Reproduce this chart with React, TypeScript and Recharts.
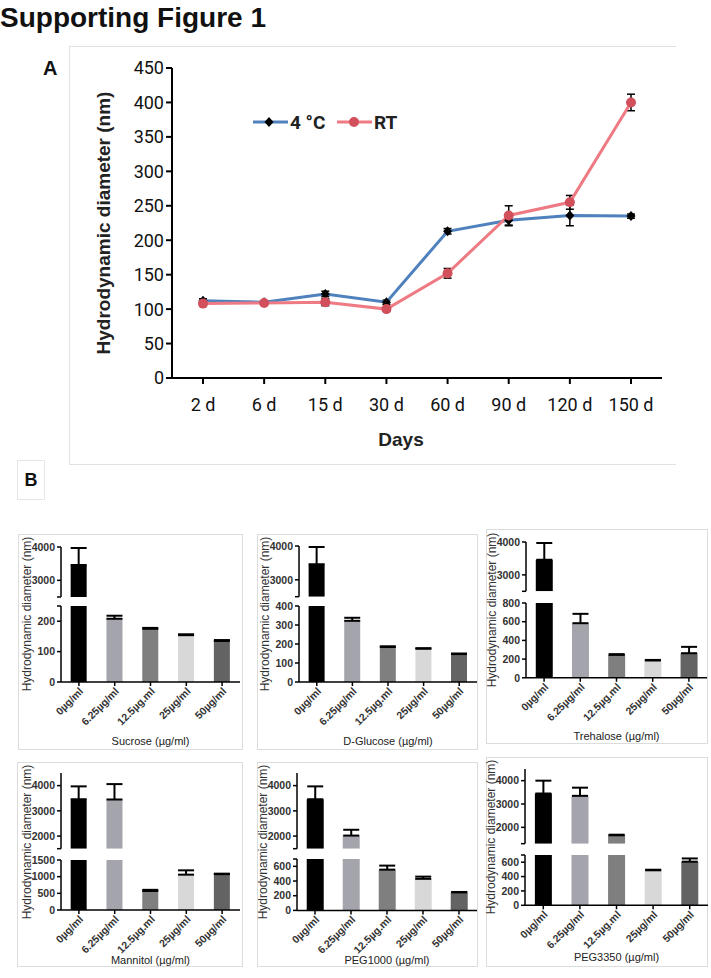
import React from "react";
import {
  LineChart,
  Line,
  BarChart,
  Bar,
  Cell,
  XAxis,
  YAxis,
  ErrorBar,
  Legend,
} from "recharts";

// ---- panel A: stability over time ----
const days = ["2 d", "6 d", "15 d", "30 d", "60 d", "90 d", "120 d", "150 d"];
const coldVals = [112, 110, 122, 110, 213, 229, 236, 235];
const coldErr = [3, 2, 4, 3, 4, 8, 15, 3];
const roomVals = [108, 109, 110, 100, 152, 236, 255, 400];
const roomErr = [3, 2, 5, 3, 7, 14, 10, 12];
const yTicksA = [0, 50, 100, 150, 200, 250, 300, 350, 400, 450];

// ---- panel B: cryoprotectants ----
const concs = ["0µg/ml", "6.25µg/ml", "12.5µg.ml", "25µg/ml", "50µg/ml"];
const barColors = ["#000000", "#a4a4ac", "#7f7f7f", "#d8d8d8", "#636363"];

const sucroseVals = [3460, 208, 175, 154, 135];
const sucroseErr = [510, 10, 3, 3, 3];
const glucoseVals = [3460, 322, 184, 175, 147];
const glucoseErr = [510, 16, 4, 3, 3];
const trehaloseVals = [3460, 584, 245, 185, 263];
const trehaloseErr = [510, 100, 8, 6, 68];
const mannitolVals = [3460, 3450, 570, 1060, 1075];
const mannitolErr = [510, 610, 35, 130, 15];
const peg1000Vals = [3460, 2020, 555, 430, 245];
const peg1000Err = [510, 230, 55, 30, 6];
const peg3350Vals = [3450, 3350, 1660, 487, 607];
const peg3350Err = [550, 350, 25, 8, 45];

const FONT_A = "'Liberation Sans Narrow', 'Arial Narrow', Roboto, sans-serif";
const FONT_B = "'Liberation Sans', Arial, sans-serif";

const lineData = days.map((d, i) => ({
  day: d,
  cold: coldVals[i],
  coldErr: coldErr[i],
  room: roomVals[i],
  roomErr: roomErr[i],
}));

const diamondDot = (p: any) => (
  <path
    key={`dm-${p.index}`}
    d={`M${p.cx},${p.cy - 5}L${p.cx + 4.5},${p.cy}L${p.cx},${p.cy + 5}L${p.cx - 4.5},${p.cy}Z`}
    fill="#000"
  />
);

const circleDot = (p: any) => (
  <circle key={`ci-${p.index}`} cx={p.cx} cy={p.cy} r={5} fill="#d1505b" />
);

const renderLegend = (props: any) => (
  <svg width={160} height={24} style={{ display: "block" }}>
    {(props.payload || []).map((p: any, i: number) => {
      const x0 = i * 84;
      const isRoom = p.value === "RT";
      return (
        <g key={p.value}>
          <line x1={x0} x2={x0 + 35} y1={12} y2={12} stroke={p.color} strokeWidth={3} />
          {isRoom ? (
            <circle cx={x0 + 17} cy={12} r={5} fill="#d1505b" />
          ) : (
            <path d={`M${x0 + 16},7L${x0 + 20.5},12L${x0 + 16},17L${x0 + 11.5},12Z`} fill="#000" />
          )}
          <text x={x0 + 37} y={19} fontFamily={FONT_A} fontWeight="bold" fontSize={19} fill="#222">
            {p.value}
          </text>
        </g>
      );
    })}
  </svg>
);

type Panel = {
  title: string;
  vals: number[];
  errs: number[];
  box: [number, number, number, number];
  axisX: number;
  endX: number;
  upTop: number;
  upBot: number;
  lowTop: number;
  lowBot: number;
  upDomain: [number, number];
  upTicks: number[];
  upHide: number[];
  lowDomain: [number, number];
  lowTicks: number[];
  lowHide: number[];
  labelY: number;
};

const panels: Panel[] = [
  {
    title: "Sucrose (µg/ml)", vals: sucroseVals, errs: sucroseErr,
    box: [18, 534, 225, 216], axisX: 61, endX: 240,
    upTop: 546.7, upBot: 596.7, lowTop: 606, lowBot: 682,
    upDomain: [2500, 4000], upTicks: [2500, 3000, 4000], upHide: [2500],
    lowDomain: [0, 250], lowTicks: [0, 100, 200, 250], lowHide: [250], labelY: 741,
  },
  {
    title: "D-Glucose (µg/ml)", vals: glucoseVals, errs: glucoseErr,
    box: [257, 534, 221, 216], axisX: 299, endX: 477,
    upTop: 546, upBot: 596.7, lowTop: 606.3, lowBot: 682.3,
    upDomain: [2500, 4000], upTicks: [2500, 3000, 4000], upHide: [2500],
    lowDomain: [0, 400], lowTicks: [0, 100, 200, 300, 400], lowHide: [], labelY: 741,
  },
  {
    title: "Trehalose (µg/ml)", vals: trehaloseVals, errs: trehaloseErr,
    box: [486, 529, 222, 215], axisX: 526, endX: 707,
    upTop: 541.7, upBot: 591, lowTop: 602.5, lowBot: 677.3,
    upDomain: [2500, 4000], upTicks: [2500, 3000, 4000], upHide: [2500],
    lowDomain: [0, 800], lowTicks: [0, 200, 400, 600, 800], lowHide: [], labelY: 735,
  },
  {
    title: "Mannitol (µg/ml)", vals: mannitolVals, errs: mannitolErr,
    box: [17, 762, 226, 205], axisX: 61, endX: 240,
    upTop: 773.3, upBot: 849, lowTop: 860, lowBot: 910,
    upDomain: [1500, 4500], upTicks: [1500, 2000, 3000, 4000], upHide: [1500],
    lowDomain: [0, 1500], lowTicks: [0, 500, 1000, 1500], lowHide: [], labelY: 960,
  },
  {
    title: "PEG1000 (µg/ml)", vals: peg1000Vals, errs: peg1000Err,
    box: [257, 762, 221, 205], axisX: 297, endX: 477,
    upTop: 773.3, upBot: 849, lowTop: 859.3, lowBot: 910.7,
    upDomain: [1500, 4500], upTicks: [1500, 2000, 3000, 4000], upHide: [1500],
    lowDomain: [0, 700], lowTicks: [0, 200, 400, 600, 700], lowHide: [700], labelY: 960,
  },
  {
    title: "PEG3350 (µg/ml)", vals: peg3350Vals, errs: peg3350Err,
    box: [486, 757, 222, 210], axisX: 525, endX: 708,
    upTop: 769.3, upBot: 844, lowTop: 855, lowBot: 905.3,
    upDomain: [1300, 4500], upTicks: [1300, 2000, 3000, 4000], upHide: [1300],
    lowDomain: [0, 700], lowTicks: [0, 200, 400, 600, 700], lowHide: [700], labelY: 957,
  },
];

const YW = 40;
const PAD = 7;
const PR = 4;

const RotTick = (props: any) => {
  const { x, y, payload } = props;
  return (
    <text
      x={x + 5}
      y={y + 4}
      textAnchor="end"
      transform={`rotate(-45, ${x + 5}, ${y + 4})`}
      fontSize={10.5}
      fontWeight="bold"
      fontFamily={FONT_B}
      fill="#333"
    >
      {payload.value}
    </text>
  );
};

const yTickStyle = { fontSize: 10.5, fontWeight: "bold", fontFamily: FONT_B, fill: "#333" } as any;

function BrokenBars({ p }: { p: Panel }) {
  const [bx, by, bw, bh] = p.box;
  const data = concs.map((c, i) => {
    const v = p.vals[i];
    const e = p.errs[i];
    const inUp = v >= p.upDomain[0];
    const inLow = v <= p.lowDomain[1];
    return {
      c,
      up: inUp ? v : null,
      upErr: inUp ? [0, e] : null,
      low: Math.min(v, p.lowDomain[1]),
      lowErr: inLow ? [0, e] : null,
    };
  });
  const w = YW + (p.endX - p.axisX) + PR;
  const xh = by + bh - p.lowBot;
  const titleOffset = by + bh - (p.labelY + 4);
  const midY = (p.upTop + p.lowBot) / 2;
  return (
    <>
      <div
        style={{
          position: "absolute",
          left: bx,
          top: by,
          width: bw,
          height: bh,
          border: "1px solid #dcdcdc",
          boxSizing: "border-box",
        }}
      />
      <svg
        style={{ position: "absolute", left: p.axisX - 44, top: midY - 90 }}
        width={20}
        height={180}
      >
        <text
          transform="translate(10, 90) rotate(-90)"
          textAnchor="middle"
          dominantBaseline="central"
          fontSize={12}
          fontFamily={FONT_B}
          fill="#333"
        >
          Hydrodynamic diameter (nm)
        </text>
      </svg>
      <div style={{ position: "absolute", left: p.axisX - YW, top: p.upTop - PAD }}>
        <BarChart
          width={w}
          height={p.upBot - p.upTop + PAD + 2}
          data={data}
          margin={{ top: PAD, right: PR, bottom: 2, left: 0 }}
          barCategoryGap="27%"
        >
          <XAxis dataKey="c" hide />
          <YAxis
            width={YW}
            domain={p.upDomain}
            ticks={p.upTicks}
            allowDataOverflow
            interval={0}
            tickSize={4}
            tickMargin={2}
            tick={yTickStyle}
            axisLine={{ stroke: "#000", strokeWidth: 1.5 }}
            tickLine={{ stroke: "#000", strokeWidth: 1.5 }}
            tickFormatter={(v: number) => (p.upHide.includes(v) ? "" : String(v))}
          />
          <Bar dataKey="up" isAnimationActive={false}>
            {data.map((d, i) => (
              <Cell key={d.c} fill={barColors[i]} />
            ))}
            <ErrorBar dataKey="upErr" width={8} stroke="#000" strokeWidth={2} direction="y" />
          </Bar>
        </BarChart>
      </div>
      <div style={{ position: "absolute", left: p.axisX - YW, top: p.lowTop - PAD }}>
        <BarChart
          width={w}
          height={p.lowBot - p.lowTop + PAD + xh}
          data={data}
          margin={{ top: PAD, right: PR, bottom: 0, left: 0 }}
          barCategoryGap="27%"
        >
          <XAxis
            dataKey="c"
            height={xh}
            interval={0}
            tickSize={4}
            tickMargin={2}
            tick={<RotTick />}
            axisLine={{ stroke: "#000", strokeWidth: 1.5 }}
            tickLine={{ stroke: "#000", strokeWidth: 1.5 }}
            label={{
              value: p.title,
              position: "insideBottom",
              offset: titleOffset,
              fontSize: 11,
              fontFamily: FONT_B,
              fill: "#222",
            }}
          />
          <YAxis
            width={YW}
            domain={p.lowDomain}
            ticks={p.lowTicks}
            allowDataOverflow
            interval={0}
            tickSize={4}
            tickMargin={2}
            tick={yTickStyle}
            axisLine={{ stroke: "#000", strokeWidth: 1.5 }}
            tickLine={{ stroke: "#000", strokeWidth: 1.5 }}
            tickFormatter={(v: number) => (p.lowHide.includes(v) ? "" : String(v))}
          />
          <Bar dataKey="low" isAnimationActive={false}>
            {data.map((d, i) => (
              <Cell key={d.c} fill={barColors[i]} />
            ))}
            <ErrorBar dataKey="lowErr" width={8} stroke="#000" strokeWidth={2} direction="y" />
          </Bar>
        </BarChart>
      </div>
    </>
  );
}

export default function App() {
  return (
    <div
      style={{
        position: "absolute",
        left: 0,
        top: 0,
        width: 711,
        height: 978,
        background: "#fff",
        overflow: "hidden",
      }}
    >
      <div
        style={{
          position: "absolute",
          left: 0,
          top: 2,
          fontFamily: FONT_B,
          fontWeight: "bold",
          fontSize: 28,
          lineHeight: "32px",
          color: "#111",
          whiteSpace: "nowrap",
        }}
      >
        Supporting Figure 1
      </div>

      {/* panel A */}
      <div
        style={{
          position: "absolute",
          left: 69,
          top: 46,
          width: 607,
          height: 419,
          borderTop: "1px solid #e2e2e2",
          borderLeft: "1px solid #e2e2e2",
          borderBottom: "1px solid #e2e2e2",
          boxSizing: "border-box",
        }}
      />
      <div
        style={{
          position: "absolute",
          left: 43,
          top: 57,
          fontFamily: FONT_B,
          fontWeight: "bold",
          fontSize: 20,
          lineHeight: "22px",
          color: "#111",
        }}
      >
        A
      </div>
      <div style={{ position: "absolute", left: 0, top: 46 }}>
        <LineChart
          width={690}
          height={419}
          data={lineData}
          margin={{ top: 22, right: 28, bottom: 0, left: 34 }}
        >
          <XAxis
            dataKey="day"
            height={87}
            padding={{ left: 31, right: 31 }}
            interval={0}
            tickSize={6}
            tickMargin={14}
            tick={{ fontSize: 18, fontFamily: FONT_A, fill: "#111" }}
            axisLine={{ stroke: "#000", strokeWidth: 2 }}
            tickLine={{ stroke: "#000", strokeWidth: 2 }}
            label={{
              value: "Days",
              position: "insideBottom",
              offset: 19,
              dx: -16,
              fontSize: 19,
              fontWeight: "bold",
              fontFamily: FONT_B,
              fill: "#222",
            }}
          />
          <YAxis
            width={138}
            domain={[0, 450]}
            ticks={yTicksA}
            interval={0}
            tickSize={6}
            tickMargin={2}
            tick={{ fontSize: 18, fontFamily: FONT_A, fill: "#111" }}
            axisLine={{ stroke: "#000", strokeWidth: 2 }}
            tickLine={{ stroke: "#000", strokeWidth: 2 }}
            label={{
              value: "Hydrodynamic diameter (nm)",
              angle: -90,
              position: "center",
              fontSize: 19,
              fontWeight: "bold",
              fontFamily: FONT_B,
              fill: "#222",
            }}
          />
          <Legend
            layout="horizontal"
            verticalAlign="middle"
            align="center"
            content={renderLegend}
            wrapperStyle={{ left: 253, top: 64, width: 160, height: 24 }}
          />
          <Line
            dataKey="cold"
            name="4 °C"
            stroke="#4f81bd"
            strokeWidth={3}
            dot={diamondDot}
            activeDot={false}
            isAnimationActive={false}
          >
            <ErrorBar dataKey="coldErr" width={4} stroke="#000" strokeWidth={1.5} direction="y" />
          </Line>
          <Line
            dataKey="room"
            name="RT"
            stroke="#ee7a84"
            strokeWidth={3}
            dot={circleDot}
            activeDot={false}
            isAnimationActive={false}
          >
            <ErrorBar dataKey="roomErr" width={4} stroke="#000" strokeWidth={1.5} direction="y" />
          </Line>
        </LineChart>
      </div>

      {/* panel B */}
      <div
        style={{
          position: "absolute",
          left: 17,
          top: 460,
          width: 28,
          height: 40,
          border: "1px solid #e6e6e6",
          boxSizing: "border-box",
          fontFamily: FONT_B,
          fontWeight: "bold",
          fontSize: 18,
          lineHeight: "38px",
          textAlign: "center",
          color: "#111",
        }}
      >
        B
      </div>
      {panels.map((p) => (
        <BrokenBars key={p.title} p={p} />
      ))}
    </div>
  );
}
